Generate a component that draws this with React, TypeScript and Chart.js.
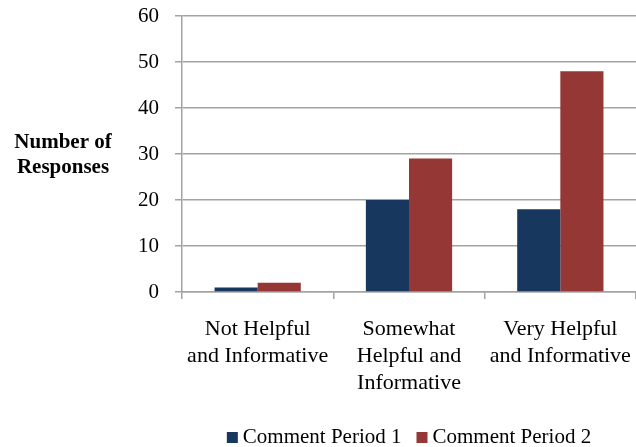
import React, { useEffect, useRef } from "react";
import { Chart, registerables } from "chart.js";

Chart.register(...registerables);

const categories: string[][] = [
  ["Not Helpful", "and Informative"],
  ["Somewhat", "Helpful and", "Informative"],
  ["Very Helpful", "and Informative"],
];
const period1 = [1, 20, 18];
const period2 = [2, 29, 48];
const seriesNames = ["Comment Period 1", "Comment Period 2"];
const seriesColors = ["#17375E", "#953735"];
const yTitle = ["Number of", "Responses"];
const yMin = 0;
const yMax = 60;
const yStep = 10;

const FONT = "'Liberation Serif', 'Times New Roman', serif";
const GRID = "#a3a3a3";

const yTitlePlugin = {
  id: "yTitleHoriz",
  afterDraw(chart: any) {
    const { ctx, chartArea } = chart;
    ctx.save();
    ctx.font = `bold 21px ${FONT}`;
    ctx.fillStyle = "#000";
    ctx.textAlign = "center";
    ctx.textBaseline = "alphabetic";
    const cx = 63;
    const cy = (chartArea.top + chartArea.bottom) / 2;
    yTitle.forEach((t, i) => {
      ctx.fillText(t, cx, cy - 6 + i * 25);
    });
    ctx.restore();
  },
};

const legendPlugin = {
  id: "customLegend",
  afterDraw(chart: any) {
    const { ctx, chartArea } = chart;
    ctx.save();
    ctx.font = `21px ${FONT}`;
    ctx.textBaseline = "alphabetic";
    ctx.textAlign = "left";
    const box = 11;
    const gapBT = 5;
    const gapItems = 15;
    const items = chart.data.datasets.map((ds: any) => ({
      label: ds.label as string,
      color: ds.backgroundColor as string,
      w: ctx.measureText(ds.label).width,
    }));
    const total =
      items.reduce((s: number, it: any) => s + box + gapBT + it.w, 0) +
      gapItems * (items.length - 1);
    let x = (chartArea.left + chartArea.right) / 2 - total / 2;
    const base = chart.height - 4;
    items.forEach((it: any) => {
      ctx.fillStyle = it.color;
      ctx.fillRect(x, base - box, box, box);
      x += box + gapBT;
      ctx.fillStyle = "#000";
      ctx.fillText(it.label, x, base);
      x += it.w + gapItems;
    });
    ctx.restore();
  },
};

export default function App() {
  const ref = useRef<HTMLCanvasElement | null>(null);
  useEffect(() => {
    if (!ref.current) return;
    const chart = new Chart(ref.current, {
      type: "bar",
      data: {
        labels: categories,
        datasets: [
          {
            label: seriesNames[0],
            data: period1,
            backgroundColor: seriesColors[0],
            borderWidth: 0,
          },
          {
            label: seriesNames[1],
            data: period2,
            backgroundColor: seriesColors[1],
            borderWidth: 0,
          },
        ],
      },
      options: {
        animation: false,
        responsive: true,
        maintainAspectRatio: false,
        datasets: {
          bar: { barPercentage: 1, categoryPercentage: 0.57 },
        },
        layout: { padding: 0 },
        scales: {
          x: {
            grid: {
              offset: true,
              drawOnChartArea: false,
              drawTicks: true,
              tickLength: 7,
              color: GRID,
              lineWidth: 1.5,
            },
            border: { color: GRID, width: 1.5 },
            ticks: {
              font: { family: FONT, size: 22, lineHeight: 1.22 },
              color: "#000",
              maxRotation: 0,
              autoSkip: false,
              padding: 17,
            },
            afterFit(scale: any) {
              scale.height = 447 - 292;
              scale.paddingLeft = 0;
              scale.paddingRight = 0;
            },
          },
          y: {
            min: yMin,
            max: yMax,
            ticks: {
              stepSize: yStep,
              font: { family: FONT, size: 21 },
              color: "#000",
              padding: 16,
            },
            grid: { color: GRID, lineWidth: 1.5, tickLength: 7 },
            border: { color: GRID, width: 1.5 },
            afterFit(scale: any) {
              scale.width = 182;
              scale.paddingTop = 16;
              scale.paddingBottom = 0;
            },
          },
        },
        plugins: {
          legend: { display: false },
          tooltip: { enabled: false },
        },
      },
      plugins: [yTitlePlugin, legendPlugin],
    });
    return () => chart.destroy();
  }, []);
  return (
    <div style={{ position: "absolute", left: 0, top: 0, width: 636, height: 447, background: "#fff" }}>
      <canvas ref={ref} />
    </div>
  );
}
